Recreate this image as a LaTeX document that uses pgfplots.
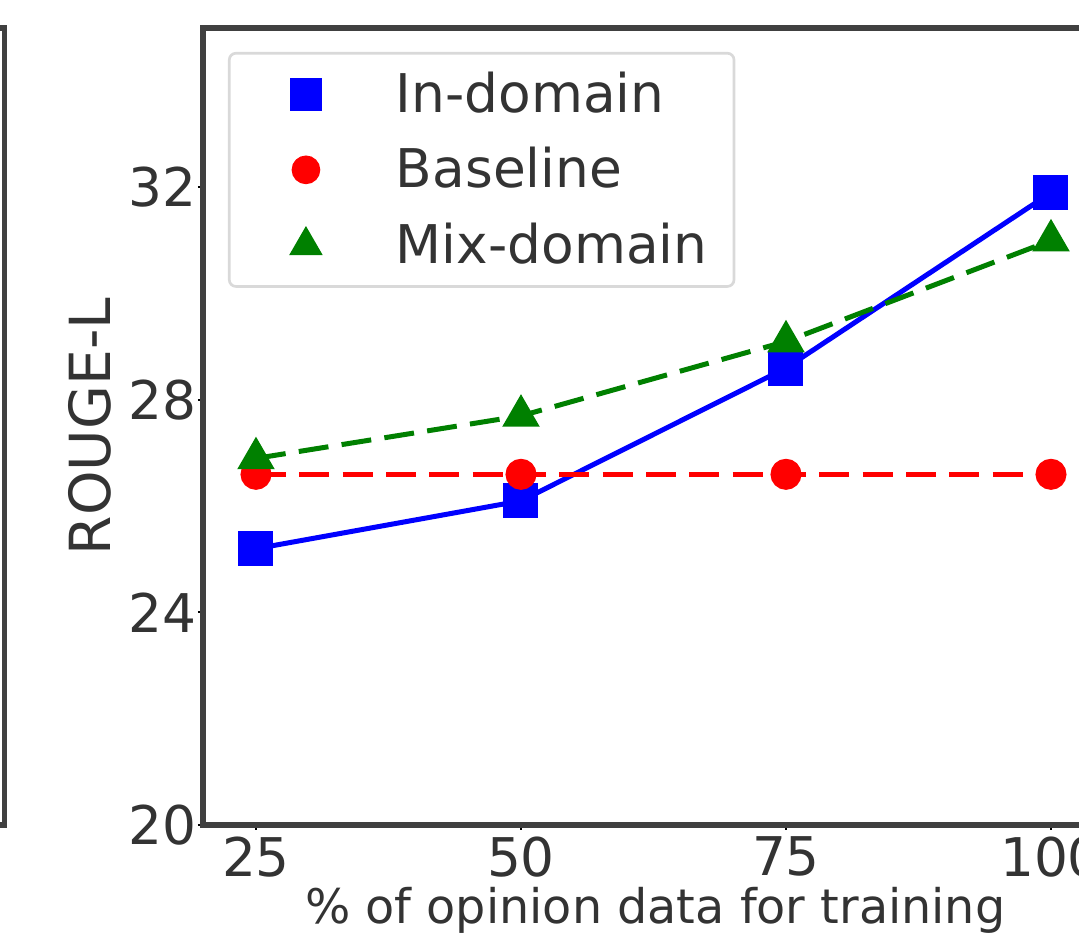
\documentclass[border=0pt]{standalone}
\usepackage{pgfplots}
\pgfplotsset{compat=1.18}
\usepackage{fontspec}
\setmainfont{DejaVu Sans}
\definecolor{mplgreen}{RGB}{0,128,0}
\begin{document}
\begin{tikzpicture}
\clip (-60.9pt,-35.1pt) rectangle (262.8pt,247.5pt);
% right edge of the neighbouring panel
\draw[line width=1.6pt, black!75] (-120pt,0pt) rectangle (-59.6pt,239.1pt);
\begin{axis}[
  at={(0pt,0pt)}, anchor=south west,
  scale only axis, width=270.3pt, height=239.1pt,
  xmin=20, xmax=105, ymin=20, ymax=35,
  xtick={25,50,75,100}, ytick={20,24,28,32},
  /pgf/number format/assume math mode=true,
  tick label style={font=\fontsize{16}{19}\selectfont, black!80},
  xticklabel style={yshift=1.5pt},
  yticklabel style={xshift=3pt},
  axis line style={line width=1.6pt, black!75},
  tick align=outside, major tick length=1.5pt,
  tick style={black, line width=0.6pt},
  xtick pos=bottom, ytick pos=left,
  xlabel={\% of opinion data for training},
  ylabel={ROUGE-L},
  xlabel style={at={(axis description cs:0.502,-0.1066)}, anchor=center, font=\fontsize{14.3}{17}\selectfont, black!80},
  ylabel style={at={(axis description cs:-0.1254,0.5)}, anchor=center, rotate=0, font=\fontsize{17}{20}\selectfont, black!80},
  legend style={at={(axis description cs:0.0277,0.970)}, anchor=north west,
    draw=black!15, line width=0.8pt, rounded corners=2pt,
    font=\fontsize{16}{19}\selectfont, text=black!80,
    row sep=5pt, inner xsep=6pt, inner ysep=3.5pt},
  legend cell align=left,
]
\addlegendimage{only marks, blue, mark=square*, mark size=4.5pt,
  legend image code/.code={\path[draw=none,fill=none] (0pt,0pt) -- (42pt,0pt);
    \draw plot[only marks] coordinates {(17pt,0pt)};}}
\addlegendentry{In-domain}
\addlegendimage{only marks, red, mark=*, mark size=3.9pt,
  legend image code/.code={\path[draw=none,fill=none] (0pt,0pt) -- (42pt,0pt);
    \draw plot[only marks] coordinates {(17pt,0pt)};}}
\addlegendentry{Baseline}
\addlegendimage{only marks, mplgreen, mark=triangle*, mark size=5pt,
  legend image code/.code={\path[draw=none,fill=none] (0pt,0pt) -- (42pt,0pt);
    \draw plot[only marks] coordinates {(17pt,0pt)};}}
\addlegendentry{Mix-domain}
\addplot[forget plot, blue, line width=1.5pt, mark=square*, mark size=4.5pt, mark options={solid}]
  coordinates {(25,25.2) (50,26.1) (75,28.6) (100,31.9)};
\addplot[forget plot, red, line width=1.5pt, dash pattern=on 9pt off 4pt, mark=*, mark size=3.9pt, mark options={solid}]
  coordinates {(25,26.6) (50,26.6) (75,26.6) (100,26.6)};
\addplot[forget plot, mplgreen, line width=1.5pt, dash pattern=on 9pt off 4pt, mark=triangle*, mark size=5pt, mark options={solid}]
  coordinates {(25,26.9) (50,27.7) (75,29.1) (100,31.0)};
\end{axis}
\end{tikzpicture}
\end{document}
